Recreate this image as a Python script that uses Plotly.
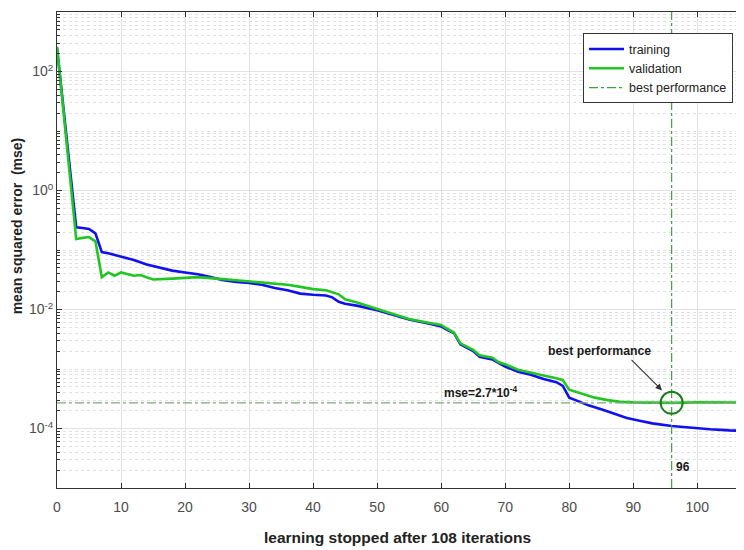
import numpy as np
import plotly.graph_objects as go

# ---- data ----
train_epoch = [0, 3, 4, 5, 6, 7, 8, 10, 12, 14, 16, 18, 20, 22, 24, 26, 28, 30, 32, 34, 36, 38, 40,
               42, 43, 44, 45, 47, 50, 53, 55, 58, 60, 61, 62, 63, 64, 65, 66, 68, 69, 70, 72, 74,
               76, 78, 79, 80, 81, 83, 85, 87, 89, 91, 93, 96, 99, 102, 105, 108]
train_mse = [250, 0.24, 0.235, 0.225, 0.19, 0.092, 0.088, 0.078, 0.068, 0.057, 0.05, 0.045, 0.042,
             0.039, 0.035, 0.031, 0.029, 0.028, 0.026, 0.023, 0.021, 0.0185, 0.0177, 0.0172, 0.016,
             0.0135, 0.0125, 0.0115, 0.0097, 0.0078, 0.0068, 0.0058, 0.0052, 0.0045, 0.0040, 0.0026,
             0.0023, 0.0020, 0.0016, 0.00145, 0.00125, 0.0011, 0.0009, 0.0008, 0.00068, 0.0006,
             0.00052, 0.00033, 0.0003, 0.000245, 0.00021, 0.00018, 0.00015, 0.000135, 0.000122,
             0.00011, 0.000103, 0.000097, 0.000093, 0.000091]

val_epoch = [0, 3, 4, 5, 6, 7, 8, 9, 10, 12, 13, 15, 18, 20, 22, 25, 28, 30, 33, 36, 38, 40, 42,
             44, 45, 47, 50, 53, 55, 58, 60, 61, 62, 63, 64, 65, 66, 68, 69, 70, 72, 74, 76, 78,
             79, 80, 82, 84, 86, 88, 90, 96, 100, 104, 108]
val_mse = [260, 0.153, 0.16, 0.165, 0.14, 0.035, 0.042, 0.037, 0.042, 0.037, 0.038, 0.032, 0.033,
           0.034, 0.035, 0.033, 0.031, 0.030, 0.028, 0.026, 0.024, 0.022, 0.021, 0.018, 0.0148,
           0.013, 0.0102, 0.0082, 0.0069, 0.0060, 0.0055, 0.0047, 0.0041, 0.0027, 0.0024, 0.0021,
           0.0017, 0.00155, 0.0013, 0.0012, 0.00097, 0.00088, 0.00078, 0.0007, 0.00065, 0.00045,
           0.00038, 0.00033, 0.0003, 0.00028, 0.000275, 0.00027, 0.000275, 0.000272, 0.000273]

best_epoch = 96
best_mse = 2.7e-4
total_epochs = 108

x_ticks = [0, 10, 20, 30, 40, 50, 60, 70, 80, 90, 100]
y_major = [1e-4, 1e-2, 1e0, 1e2]
y_major_text = ["10<sup>-4</sup>", "10<sup>-2</sup>", "10<sup>0</sup>", "10<sup>2</sup>"]
y_minor = [k * 10.0 ** e for e in range(-5, 3) for k in range(1, 10)
           if not (k == 1 and 10.0 ** e in y_major)] + [1e3]

FONT = "Liberation Sans, Arial, sans-serif"

fig = go.Figure()
fig.add_trace(go.Scatter(x=train_epoch, y=train_mse, mode="lines", name="training",
                         line=dict(color="#1010f0", width=2.6)))
fig.add_trace(go.Scatter(x=val_epoch, y=val_mse, mode="lines", name="validation",
                         line=dict(color="#22c522", width=2.6)))
fig.add_trace(go.Scatter(x=[best_epoch, best_epoch], y=[1e-5, 1e3], mode="lines",
                         name="best performance",
                         line=dict(color="#3f9f3f", width=1.2, dash="dashdot")))
fig.add_trace(go.Scatter(x=[0, total_epochs], y=[best_mse, best_mse], mode="lines",
                         showlegend=False,
                         line=dict(color="#7fa77f", width=1.3, dash="dashdot")))
fig.add_trace(go.Scatter(x=[best_epoch], y=[best_mse], mode="markers", showlegend=False,
                         marker=dict(symbol="circle-open", size=22,
                                     line=dict(color="#1d7d1d", width=2), color="#1d7d1d")))

ann_font = dict(family=FONT, size=12, color="#1a1a1a")
fig.add_annotation(x=60.2, y=np.log10(best_mse), xref="x", yref="y", text="<b>mse=2.7*10<sup>-4</sup></b>",
                   showarrow=False, xanchor="left", yanchor="bottom", yshift=1, font=ann_font)
fig.add_annotation(x=84.8, y=-2.70, xref="x", yref="y", text="<b>best performance</b>",
                   showarrow=False, font=dict(family=FONT, size=12.3, color="#1a1a1a"))
fig.add_annotation(x=94.5, y=-3.36, xref="x", yref="y", ax=89.5, ay=-2.82, axref="x", ayref="y",
                   text="", showarrow=True, arrowhead=2, arrowsize=1.2, arrowwidth=1.1,
                   arrowcolor="#333333")
fig.add_annotation(x=97.8, y=-4.64, xref="x", yref="y", text="<b>96</b>",
                   showarrow=False, font=ann_font)
# axis titles
fig.add_annotation(x=0.495, y=-0.103, xref="paper", yref="paper", xanchor="center", yanchor="middle",
                   text="<b>learning stopped after 108 iterations</b>", showarrow=False,
                   font=dict(family=FONT, size=15.5, color="#222222"))
fig.add_annotation(x=-0.058, y=0.55, xref="paper", yref="paper", textangle=-90,
                   xanchor="center", yanchor="middle",
                   text="<b>mean squared error  (mse)</b>", showarrow=False,
                   font=dict(family=FONT, size=14, color="#222222"))

# page has an 8px body margin, so the figure is sized/offset to compensate
fig.update_layout(
    width=736, height=542,
    margin=dict(l=49, r=0, t=4, b=62),
    paper_bgcolor="white", plot_bgcolor="white",
    font=dict(family=FONT, color="#4d4d4d"),
    showlegend=True,
    legend=dict(x=0.984, y=0.955, xanchor="right", yanchor="top",
                bgcolor="white", bordercolor="#333333", borderwidth=1,
                font=dict(family=FONT, size=12.5, color="#222222"),
                tracegroupgap=0, itemwidth=35),
)
fig.update_xaxes(
    range=[0, 107.3], tickvals=x_ticks, automargin=False,
    showline=True, linecolor="#333333", linewidth=1, mirror="ticks",
    ticks="inside", ticklen=5, tickcolor="#333333",
    showgrid=True, gridcolor="#e2e2e2", gridwidth=1, zeroline=False,
    tickfont=dict(family=FONT, size=14, color="#4d4d4d"),
    ticklabelstandoff=6,
)
fig.update_yaxes(
    type="log", range=[-5, 3], tickvals=y_major, ticktext=y_major_text, automargin=False,
    showline=True, linecolor="#333333", linewidth=1, mirror="ticks",
    ticks="inside", ticklen=5, tickcolor="#333333",
    showgrid=True, gridcolor="#e2e2e2", gridwidth=1, zeroline=False,
    tickfont=dict(family=FONT, size=14, color="#4d4d4d"),
    minor=dict(tickvals=y_minor, ticks="inside", ticklen=3, tickcolor="#333333",
               showgrid=True, gridcolor="#e0e0e0", griddash="dot", gridwidth=1),
)

fig.write_html("out.html")
